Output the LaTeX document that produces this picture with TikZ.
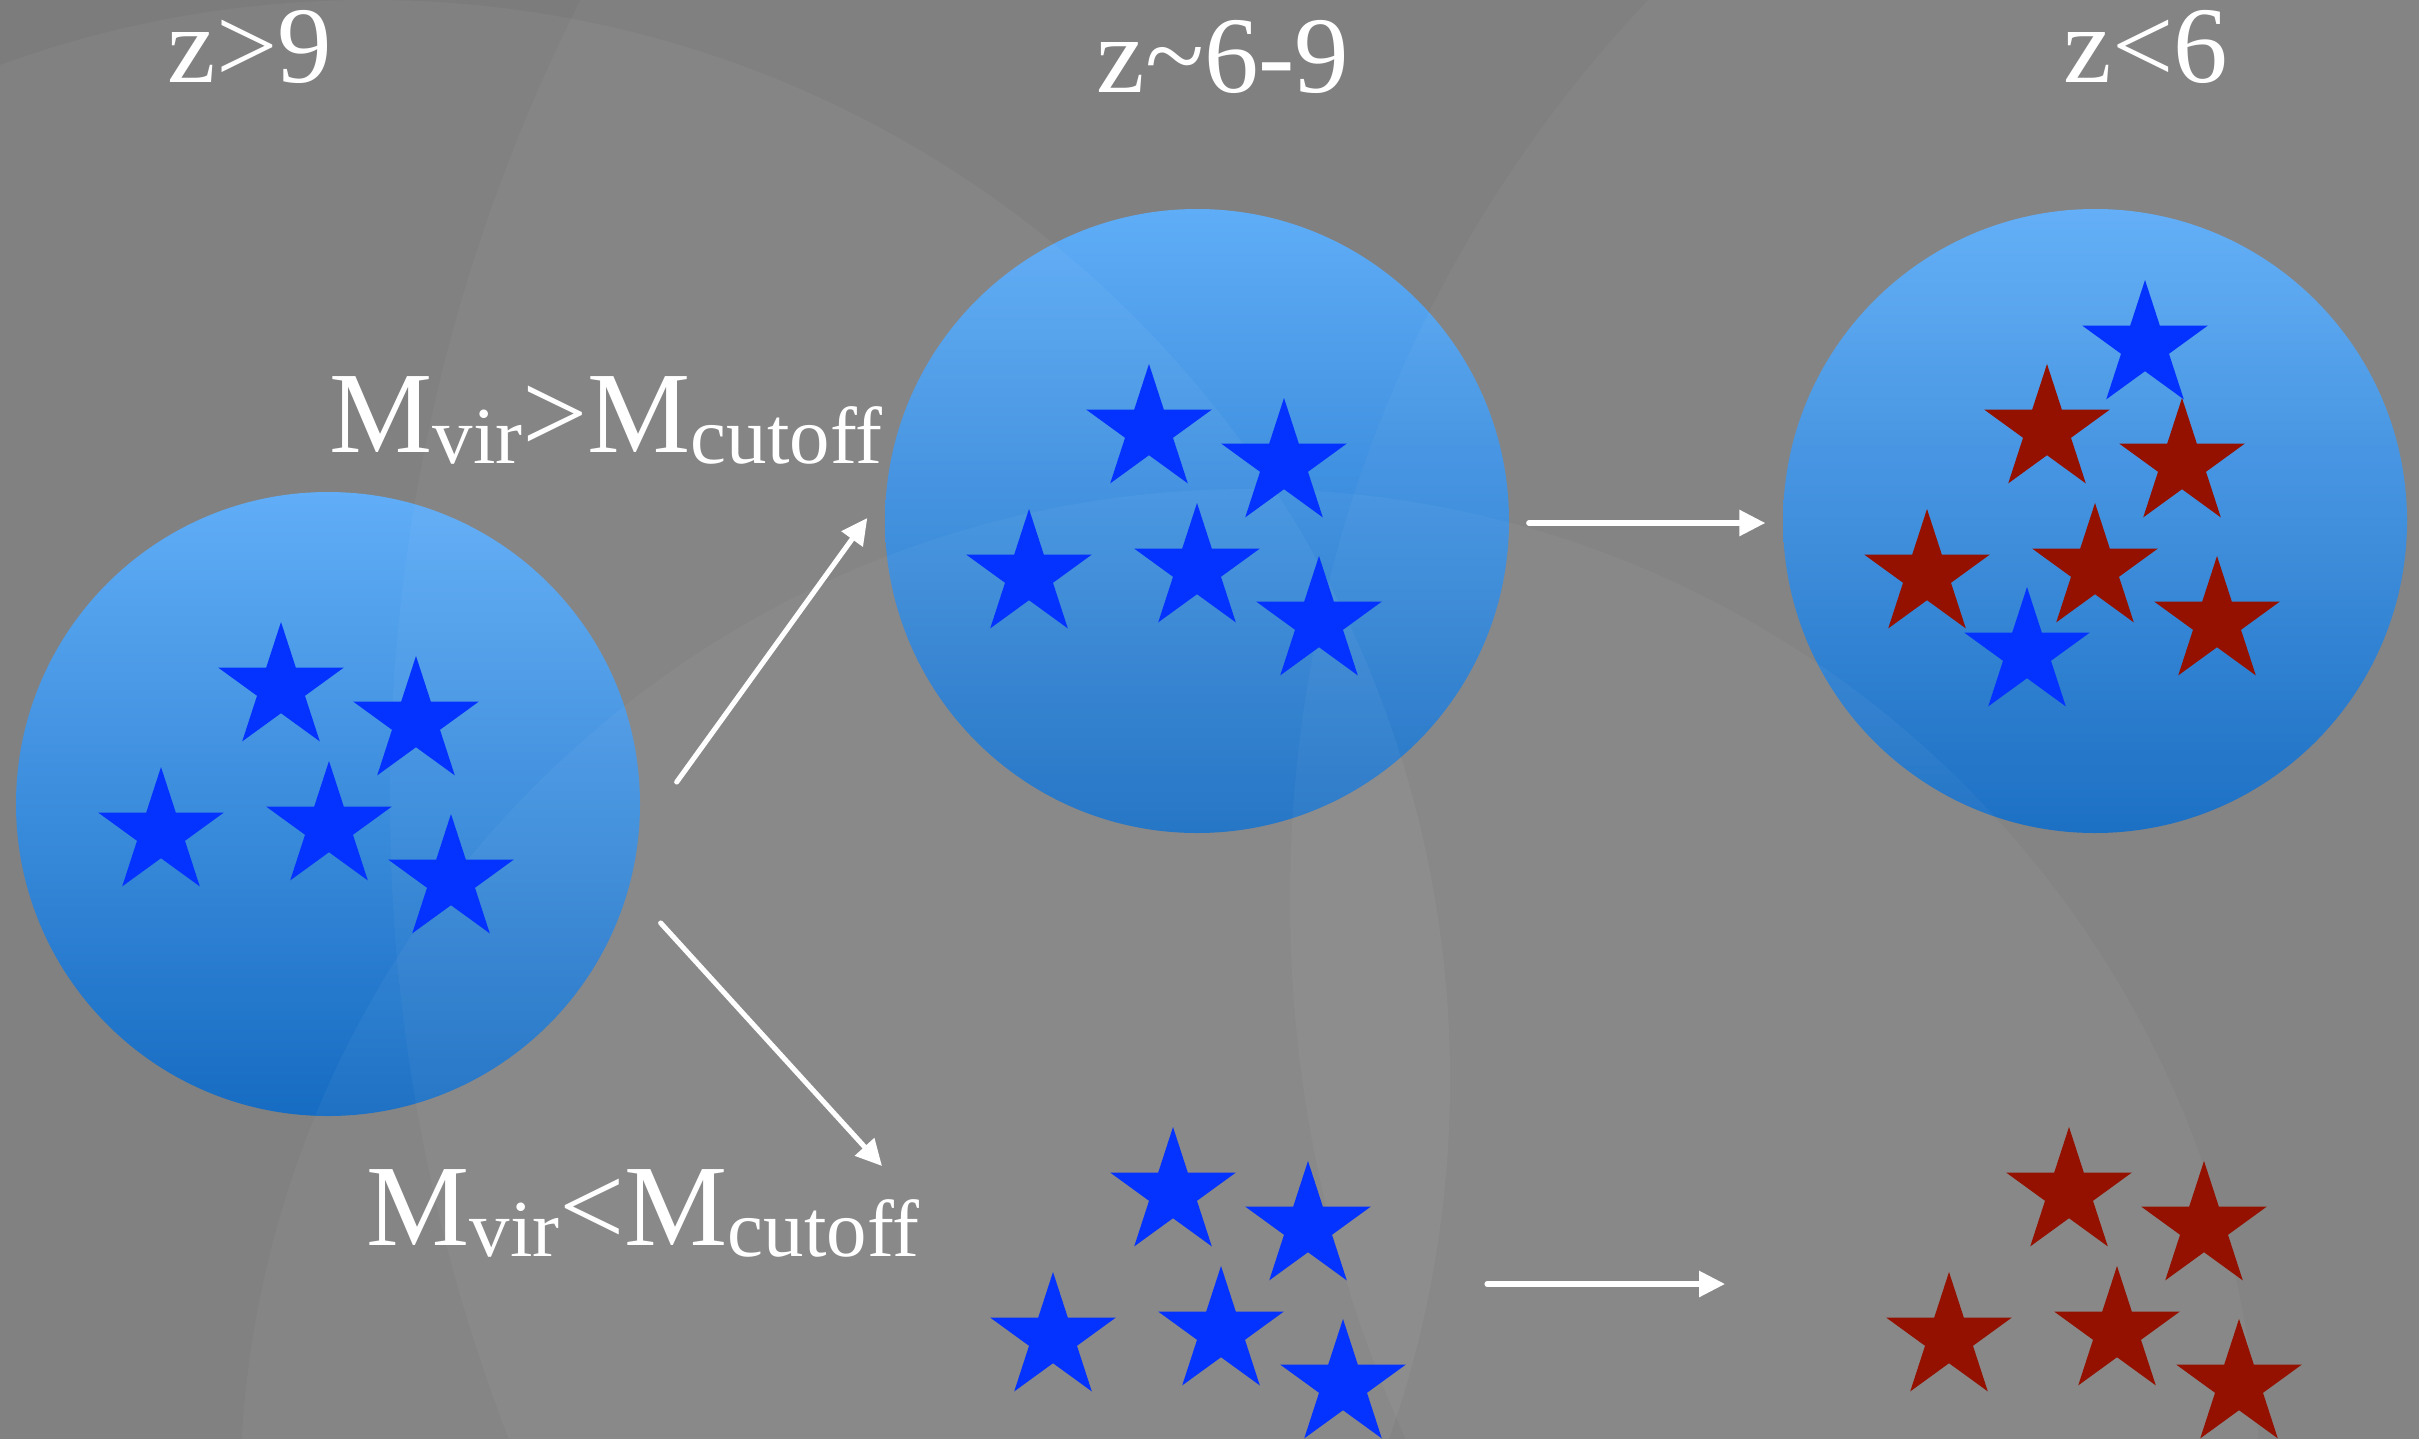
\documentclass[tikz,border=0pt]{standalone}
\usepackage{fontspec}
\setmainfont{Liberation Serif}
\usetikzlibrary{arrows.meta,shapes.geometric,calc}

\definecolor{bggray}{HTML}{7C7C7C}
\definecolor{halotop}{HTML}{5AAAF7}
\definecolor{halobot}{HTML}{0C66C0}
\definecolor{starblue}{HTML}{0433FF}
\definecolor{starred}{HTML}{941100}

\newcommand{\clusterpts}{-0.48/0.91, 0.87/0.57, -1.68/-0.54, 0/-0.48, 1.22/-1.01}
\newcommand{\subtxt}[1]{\raisebox{-3.2pt}{\fontsize{23}{27}\selectfont #1}}

\tikzset{
  halo/.style={circle, minimum size=6.24cm, inner sep=0pt, draw=none, top color=halotop, bottom color=halobot},
  bstar/.style={star, star points=5, star point ratio=2.618, minimum size=1.32cm, inner sep=0pt, draw=none, fill=starblue},
  rstar/.style={bstar, fill=starred},
  flow/.style={draw=white, line width=1.45pt, -{Triangle[length=7.4pt,width=7.2pt]}},
  zlabel/.style={text=white, font=\fontsize{31}{37}\selectfont, anchor=base, inner sep=0pt},
  mlabel/.style={text=white, font=\fontsize{33}{39}\selectfont, anchor=base, inner sep=0pt},
}

\begin{document}
\begin{tikzpicture}[line cap=round,line join=round]
\useasboundingbox (0,0) rectangle (24.19,14.39);
\fill[bggray] (0,0) rectangle (24.19,14.39);

\node[halo] (h1) at (3.28,6.35) {};
\node[halo] (h2) at (11.97,9.18) {};
\node[halo] (h3) at (20.95,9.18) {};
\coordinate (bare2) at (12.21,1.55);
\coordinate (bare3) at (21.17,1.55);

\begin{scope}
\clip (0,0) rectangle (24.19,14.39);
\fill[white,opacity=0.045] (3.70,3.59) circle (10.8);
\fill[white,opacity=0.035] (21.61,6.39) circle (17.71);
\fill[white,opacity=0.04] (12.5,-0.6) circle (10.1);
\fill[white,opacity=0.035] (26.0,5.39) circle (13.1);
\end{scope}

\begin{scope}[shift={($(h1.center)+(0.01,0.25)$)}]
\foreach \dx/\dy [count=\i] in \clusterpts
  \node[bstar] (sa\i) at (\dx,\dy) {};
\end{scope}
\begin{scope}[shift={(h2.center)}]
\foreach \dx/\dy [count=\i] in \clusterpts
  \node[bstar] (sb\i) at (\dx,\dy) {};
\end{scope}
\begin{scope}[shift={(bare2)}]
\foreach \dx/\dy [count=\i] in \clusterpts
  \node[bstar] (sc\i) at (\dx,\dy) {};
\end{scope}
\begin{scope}[shift={(h3.center)}]
\foreach \dx/\dy [count=\i] in \clusterpts
  \node[rstar] (sd\i) at (\dx,\dy) {};
\node[bstar] (sd6) at (0.50,1.75) {};
\node[bstar] (sd7) at (-0.68,-1.32) {};
\end{scope}
\begin{scope}[shift={(bare3)}]
\foreach \dx/\dy [count=\i] in \clusterpts
  \node[rstar] (se\i) at (\dx,\dy) {};
\end{scope}

\draw[flow] ($(h1.east)+(0.36,0.22)$) -- ($(h2.west)+(-0.17,0.03)$);
\draw[flow] ($(h1.east)+(0.20,-1.19)$) -- ($(bare2)+(-3.39,1.18)$);
\draw[flow] ($(h2.east)+(0.19,-0.02)$) -- ($(h3.west)+(-0.17,-0.02)$);
\draw[flow] ($(bare2)+(2.66,0)$) -- ($(bare3)+(-3.92,0)$);

\node[zlabel] (t1) at (2.50,13.56) {z>9};
\node[zlabel] (t2) at (12.23,13.46) {z\textasciitilde6-9};
\node[zlabel] (t3) at (21.46,13.56) {z<6};
\node[mlabel] (m1) at (6.06,9.87) {M\subtxt{vir}>M\subtxt{cutoff}};
\node[mlabel] (m2) at (6.43,1.94) {M\subtxt{vir}<M\subtxt{cutoff}};
\end{tikzpicture}
\end{document}
